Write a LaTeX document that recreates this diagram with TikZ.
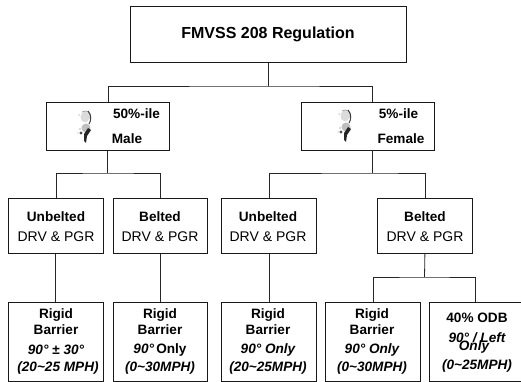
\documentclass[tikz,border=0pt]{standalone}
\usepackage{fontspec}
\setmainfont{Liberation Sans}
\newcommand{\personfig}[2]{%
  \fill[gray!35] (#1-6,#2-12) circle (1);
  \fill[gray!30] (#1-7,#2+6) circle (.8);
  \fill[gray!28] (#1,#2-10) ellipse (4.5 and 5.5);
  \draw[gray!80,line width=.7pt] (#1-3,#2-15) .. controls (#1+2,#2-18) and (#1+6,#2-14) .. (#1+5,#2-8);
  \draw[black!75,line width=1pt] (#1+3,#2-16) .. controls (#1+7,#2-12) and (#1+6,#2-6) .. (#1+4,#2-3);
  \fill[gray!50] (#1+1,#2+1) ellipse (4.5 and 4.5);
  \fill[black!85] (#1-1,#2+7) -- (#1+3,#2+1) -- (#1+6,#2+3) -- (#1+2,#2+9) -- (#1+1,#2+16) -- (#1-1,#2+14) -- cycle;
  \fill[black!70] (#1-4,#2+6) circle (1.6);
  \fill[gray!60] (#1-5,#2+2) circle (.8);
}
\tikzset{
  x=1pt,y=-1pt,
  boxnode/.style={draw=black!90,line width=.8pt,rectangle,inner sep=0pt,align=center,anchor=north west},
  link/.style={draw=black!85,line width=.8pt},
  sm/.style={inner sep=0pt,font=\fontsize{13.6}{15}\selectfont\bfseries},
}
\newcommand{\boxat}[5]{\node[boxnode,minimum width=#4pt,minimum height=#5pt] (#1) at (#2,#3) {};}
\begin{document}
\begin{tikzpicture}
\useasboundingbox (0,0) rectangle (521,382);
\boxat{top}{130}{6}{276}{56}
\boxat{male}{46}{102}{123}{48}
\boxat{female}{301}{102}{133}{48}
\boxat{ub1}{8}{198}{95}{55}
\boxat{b1}{113}{198}{94}{55}
\boxat{ub2}{221}{198}{95}{55}
\boxat{b2}{377}{198}{95}{55}
\boxat{r1}{8}{302}{95}{79}
\boxat{r2}{113}{302}{94}{79}
\boxat{r3}{221}{302}{95}{79}
\boxat{r4}{325}{302}{95}{79}
\boxat{odb}{429}{302}{91.5}{79}
% labels
\node[inner sep=0pt,font=\fontsize{16}{18}\selectfont\bfseries] (ttop) at (268,34) {FMVSS 208 Regulation};
\node[sm] (tm1) at (136.5,114) {50\%-ile};
\node[sm] (tm2) at (127,138.5) {Male};
\node[sm] (tf1) at (398.5,114) {5\%-ile};
\node[sm] (tf2) at (401,138.5) {Female};
\foreach \n/\t/\cx in {a/Unbelted/56,b/Belted/160,c/Unbelted/268,d/Belted/425}{
  \node[sm] (h\n) at (\cx,217) {\t};
  \node[inner sep=0pt,font=\fontsize{14}{16}\selectfont] (s\n) at (\cx,237) {DRV \& PGR};
}
\foreach \n/\cx in {a/56,b/160,c/268,d/372}{
  \node[sm] (ra\n) at (\cx,315) {Rigid};
  \node[sm] (rb\n) at (\cx,330) {Barrier};
}
\node[sm] (ma) at (56,350) {\itshape 90° {\normalfont\bfseries ±} 30°};
\node[sm] (mb) at (160,350) {\itshape 90°\,{\normalfont\bfseries Only}};
\node[sm] (mc) at (268,350) {\itshape 90° Only};
\node[sm] (md) at (372,350) {\itshape 90° Only};
\node[sm] (na) at (58,368) {\itshape (20\textasciitilde 25 MPH)};
\node[sm] (nb) at (160,368) {\itshape (0\textasciitilde 30MPH)};
\node[sm] (nc) at (268,368) {\itshape (20\textasciitilde 25MPH)};
\node[sm] (nd) at (372,368) {\itshape (0\textasciitilde 30MPH)};
\node[sm] (oa) at (477,318) {40\% ODB};
\node[sm] (ob) at (477,338) {\itshape 90° / Left};
\node[sm] (oc) at (474,347) {\itshape Only};
\node[sm] (od) at (477,366) {\itshape (0\textasciitilde 25MPH)};
% connectors
\coordinate (h0) at (268,86);
\coordinate (hl) at (108,173);
\coordinate (hr) at (372,173);
\coordinate (hb) at (424.5,277);
\coordinate (fn) at (372,102);
\coordinate (fs) at (372,150);
\draw[link] (top.south -| h0) -- (h0);
\draw[link] (male.north) |- (h0) -| (fn);
\draw[link,line width=1.1pt] (male.south) -- (male.south |- hl);
\draw[link] (ub1.north) |- (hl) -| (b1.north);
\draw[link] (fs) -- (hr);
\draw[link] (ub2.north) |- (hr) -| (b2.north);
\draw[link,line width=1pt] (ub1.south) -- (r1.north);
\draw[link] (b1.south) -- (r2.north);
\draw[link] (ub2.south) -- (r3.north);
\draw[link] (b2.south) -- (hb);
\draw[link] (r4.north) |- (hb) -| (odb.north);
% figures
\personfig{85}{127}
\personfig{345}{126}
\end{tikzpicture}
\end{document}
